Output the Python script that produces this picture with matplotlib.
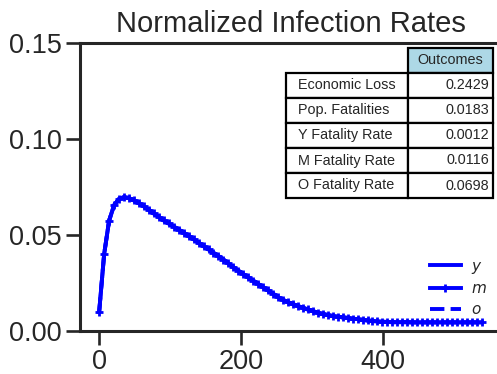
import matplotlib
matplotlib.use("Agg")
import matplotlib.pyplot as plt
from matplotlib.table import Table

plt.rcParams['font.family'] = ['Liberation Sans', 'DejaVu Sans']
plt.rcParams['text.color'] = '#262626'
plt.rcParams['axes.labelcolor'] = '#262626'
plt.rcParams['xtick.color'] = '#262626'
plt.rcParams['ytick.color'] = '#262626'

# ---- data ----
days = [0, 7, 14, 21, 28, 35, 42, 49, 56, 63, 70, 77, 84, 91, 98, 105, 112, 119,
        126, 133, 140, 147, 154, 161, 168, 175, 182, 189, 196, 203, 210, 217, 224,
        231, 238, 245, 252, 259, 266, 273, 280, 287, 294, 301, 308, 315, 322, 329,
        336, 343, 350, 357, 364, 371, 378, 385, 392, 399, 406, 413, 420, 427, 434,
        441, 448, 455, 462, 469, 476, 483, 490, 497, 504, 511, 518, 525, 532, 539]
rate_values = [0.0100, 0.0400, 0.0575, 0.0655, 0.0688, 0.0698, 0.0692, 0.0680,
               0.0666, 0.0649, 0.0631, 0.0612, 0.0594, 0.0576, 0.0560, 0.0544,
               0.0528, 0.0512, 0.0495, 0.0478, 0.0460, 0.0442, 0.0425, 0.0407,
               0.0390, 0.0372, 0.0352, 0.0332, 0.0314, 0.0296, 0.0279, 0.0262,
               0.0245, 0.0228, 0.0211, 0.0194, 0.0176, 0.0162, 0.0150, 0.0140,
               0.0130, 0.0121, 0.0112, 0.0104, 0.0095, 0.0089, 0.0083, 0.0078,
               0.0075, 0.0071, 0.0068, 0.0064, 0.0062, 0.0058, 0.0055, 0.0052,
               0.0050, 0.0048, 0.0047, 0.0046, 0.0046, 0.0046, 0.0046, 0.0045,
               0.0045, 0.0045, 0.0045, 0.0045, 0.0045, 0.0045, 0.0045, 0.0045,
               0.0045, 0.0045, 0.0045, 0.0045, 0.0045, 0.0045]
y_rate = rate_values
m_rate = rate_values
o_rate = rate_values

series_labels = ['$y$', '$m$', '$o$']
table_row_labels = ['Economic Loss', 'Pop. Fatalities', 'Y Fatality Rate',
                    'M Fatality Rate', 'O Fatality Rate']
table_values = ['0.2429', '0.0183', '0.0012', '0.0116', '0.0698']
table_header = 'Outcomes'
title = 'Normalized Infection Rates'
xticks = [0, 200, 400]
yticks = [0.00, 0.05, 0.10, 0.15]

# ---- figure ----
fig = plt.figure(figsize=(4.97, 3.74), dpi=100)
ax = fig.add_axes([80 / 497, 1 - 331 / 374, (501 - 80) / 497, (331 - 43) / 374])

blue = '#0000ff'
ax.plot(days, y_rate, color=blue, lw=2.8, ls='-', label=series_labels[0])
ax.plot(days, m_rate, color=blue, lw=2.8, ls='-', marker='+', ms=6, mew=2,
        label=series_labels[1])
ax.plot(days, o_rate, color=blue, lw=2.8, ls='--', label=series_labels[2])

ax.set_xlim(-27, 566)
ax.set_ylim(0, 0.15)
ax.set_xticks(xticks)
ax.set_yticks(yticks)
ax.set_yticklabels([f'{v:.2f}' for v in yticks])
ax.tick_params(axis='both', labelsize=19.5, length=10, width=1.9,
               direction='out', color='#262626')
ax.tick_params(axis='x', pad=3)
ax.tick_params(axis='y', pad=3)
for s in ['left', 'bottom', 'top', 'right']:
    ax.spines[s].set_linewidth(2.2)
    ax.spines[s].set_color('#262626')

ax.set_title(title, fontsize=21, color='#262626', pad=8)

leg = ax.legend(loc='lower right', bbox_to_anchor=(1.0, 0.0), frameon=False,
                fontsize=11, handlelength=2.0, labelspacing=0.45,
                handletextpad=0.7)

# ---- table ----
tbl = Table(ax, bbox=[(286 - 80) / 421, (331 - 198) / 288,
                      (493 - 286) / 421, (198 - 48) / 288])
w_lab, w_val, h = 122, 85, 25
hdr = tbl.add_cell(0, 1, width=w_val, height=h, text=table_header, loc='center',
                   facecolor='#add8e6')
for i, (lab, val) in enumerate(zip(table_row_labels, table_values)):
    c1 = tbl.add_cell(i + 1, 0, width=w_lab, height=h, text=lab, loc='left',
                      facecolor='white')
    c2 = tbl.add_cell(i + 1, 1, width=w_val, height=h, text=val, loc='right',
                      facecolor='white')
    c2.PAD = 0.04
tbl.auto_set_font_size(False)
tbl.set_fontsize(10.4)
for key, cell in tbl.get_celld().items():
    cell.set_linewidth(1.6)
    cell.set_edgecolor('black')
    cell.get_text().set_color('#262626')
ax.add_table(tbl)

fig.savefig('out.png', dpi=100)
